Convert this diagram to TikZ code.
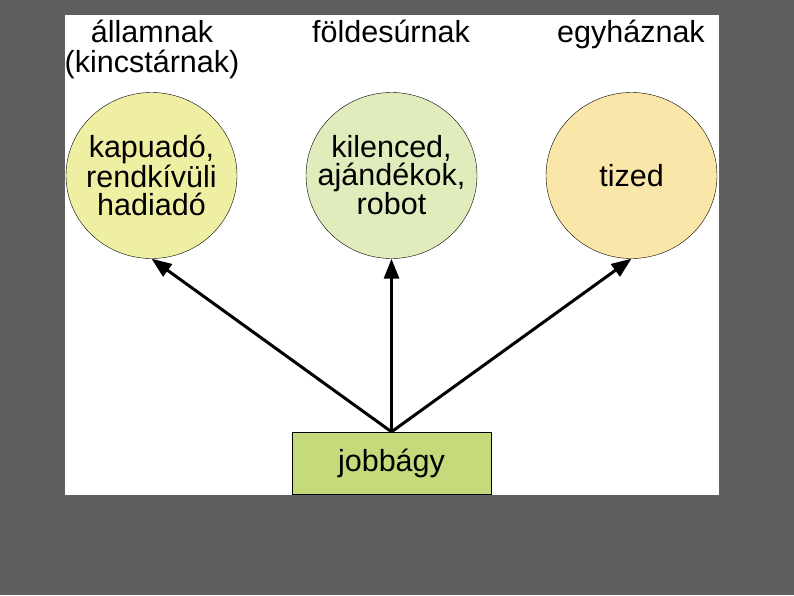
\documentclass[tikz,border=0pt]{standalone}
\usepackage{fontspec}
\setmainfont{Liberation Sans}
\usetikzlibrary{arrows.meta,shapes.geometric}
\definecolor{slate}{HTML}{5F5F5F}
\definecolor{stateyel}{HTML}{EFEFA3}
\definecolor{lordgreen}{HTML}{E1ECBD}
\definecolor{churchora}{HTML}{FAE6A8}
\definecolor{serfgreen}{HTML}{C5DA7B}

\begin{document}
\begin{tikzpicture}[x=1pt,y=-1pt,
  blob/.style={draw,ellipse,thin,minimum width=171pt,minimum height=166pt,inner sep=-30pt,align=center,font=\fontsize{30.5}{27.5}\selectfont},
  head/.style={anchor=north,inner sep=0pt,align=center,font=\fontsize{30.5}{30}\selectfont},
  give/.style={-{Triangle[length=20pt,width=15pt]},line width=3pt}]
\fill[slate] (0,0) rectangle (794,595);
\useasboundingbox (0,0) rectangle (794,595);
\fill[white] (65,15) rectangle (719,495);
% who gets what
\node[head] (hstate) at (152,20){államnak\\(kincstárnak)};
\node[head] (hlord) at (391,20){földesúrnak};
\node[head] (hchurch) at (631,20){egyháznak};
\node[blob,fill=stateyel] (state) at (151.5,175.5){kapuadó,\\rendkívüli\\hadiadó};
\node[blob,fill=lordgreen] (lord) at (391.5,175.5){kilenced,\\ajándékok,\\robot};
\node[blob,fill=churchora] (church) at (631.5,175.5){tized};
\node[draw,thin,fill=serfgreen,minimum width=199pt,minimum height=62pt,inner sep=0pt,font=\fontsize{30.5}{28}\selectfont] (serf) at (391.5,463){jobbágy};
\draw[give] (serf.north)--(state.south);
\draw[give] (serf.north)--(lord.south);
\draw[give] (serf.north)--(church.south);
\end{tikzpicture}
\end{document}
